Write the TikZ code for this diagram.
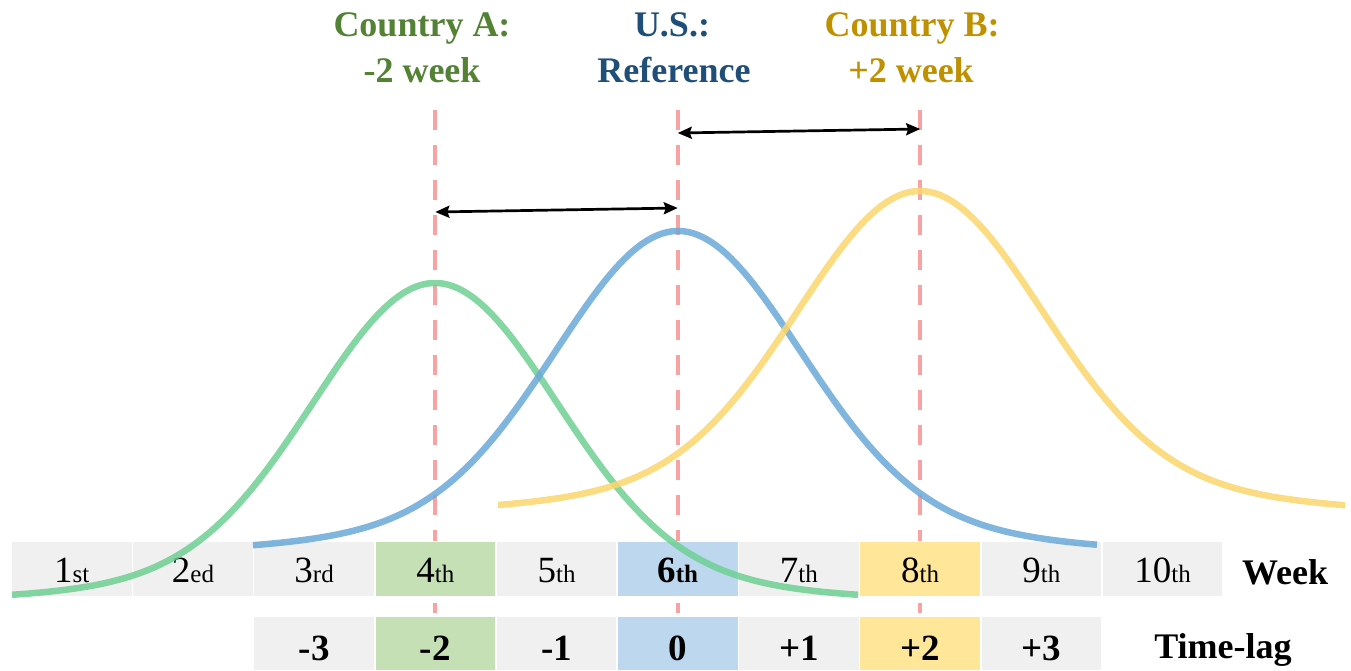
\documentclass[tikz,border=0pt]{standalone}
\usepackage{fontspec}
\setmainfont{Liberation Serif}
\usetikzlibrary{arrows.meta}
\definecolor{cellgray}{HTML}{F0F0F0}
\definecolor{cellgreen}{HTML}{C5E0B4}
\definecolor{cellblue}{HTML}{BDD7EE}
\definecolor{cellyellow}{HTML}{FFE699}
\definecolor{cgreen}{HTML}{6ECF93}
\definecolor{cblue}{HTML}{6AA8D8}
\definecolor{cyellow}{HTML}{FCD66C}
\definecolor{dashpink}{HTML}{F7A3A3}
\definecolor{labA}{HTML}{548235}
\definecolor{labUS}{HTML}{1F4E79}
\definecolor{labB}{HTML}{BF9000}
\newcommand{\wk}[2]{{\fontsize{37}{37}\selectfont #1}{\fontsize{25}{25}\selectfont #2}}
\begin{document}
\begin{tikzpicture}[x=1pt,y=-1pt,
  cell/.style={draw=none, minimum width=119.5pt, minimum height=54pt, inner sep=0pt, text height=28pt, text depth=0pt},
  lagcell/.style={cell, minimum height=53pt, text height=33pt, font=\fontsize{37}{37}\selectfont\bfseries},
  lab/.style={anchor=base, inner sep=0pt, font=\fontsize{36}{36}\selectfont\bfseries},
  guide/.style={dashpink, line width=4pt, dash pattern=on 20pt off 15pt},
  gap/.style={dashpink, line width=4pt, shorten <=7pt, shorten >=4pt},
  curve/.style={line width=6.5pt, opacity=0.85},
  dbl/.style={black, line width=2.7pt, {Stealth[length=14pt,width=12pt,inset=2pt]}-{Stealth[length=14pt,width=12pt,inset=2pt]}}
]
\useasboundingbox (0,0) rectangle (1351,670);
% top labels
\node[lab, text=labA] (a1) at (422,36) {Country A:};
\node[lab, text=labA] (a2) at (422,82) {-2 week};
\node[lab, text=labUS] (u1) at (672,36) {U.S.:};
\node[lab, text=labUS] (u2) at (674,82) {Reference};
\node[lab, text=labB] (b1) at (912,36) {Country B:};
\node[lab, text=labB] (b2) at (911,82) {+2 week};
% week row
\node[cell, fill=cellgray]   (w1)  at (71.75,568.5)   {\wk{1}{st}};
\node[cell, fill=cellgray]   (w2)  at (192.95,568.5)  {\wk{2}{ed}};
\node[cell, fill=cellgray]   (w3)  at (314.15,568.5)  {\wk{3}{rd}};
\node[cell, fill=cellgreen]  (w4)  at (435.35,568.5)  {\wk{4}{th}};
\node[cell, fill=cellgray]   (w5)  at (556.55,568.5)  {\wk{5}{th}};
\node[cell, fill=cellblue]   (w6)  at (677.75,568.5)  {\bfseries\wk{6}{th}};
\node[cell, fill=cellgray]   (w7)  at (798.95,568.5)  {\wk{7}{th}};
\node[cell, fill=cellyellow] (w8)  at (920.15,568.5)  {\wk{8}{th}};
\node[cell, fill=cellgray]   (w9)  at (1041.35,568.5) {\wk{9}{th}};
\node[cell, fill=cellgray]   (w10) at (1162.55,568.5) {\wk{10}{th}};
\node[lab] (week) at (1285,584) {Week};
% time-lag row
\node[lagcell, fill=cellgray]   (t3) at (314.15,643.5)  {-3};
\node[lagcell, fill=cellgreen]  (t4) at (435.35,643.5)  {-2};
\node[lagcell, fill=cellgray]   (t5) at (556.55,643.5)  {-1};
\node[lagcell, fill=cellblue]   (t6) at (677.75,643.5)  {0};
\node[lagcell, fill=cellgray]   (t7) at (798.95,643.5)  {+1};
\node[lagcell, fill=cellyellow] (t8) at (920.15,643.5)  {+2};
\node[lagcell, fill=cellgray]   (t9) at (1041.35,643.5) {+3};
\node[lab] (lag) at (1223,658) {Time-lag};
% guides
\coordinate (gA) at (435.35,110);
\coordinate (gU) at (677.75,110);
\coordinate (gB) at (920.15,110);
\draw[guide] (gA) -- (w4.north);
\draw[guide] (gU) -- (w6.north);
\draw[guide] (gB) -- (w8.north);
\draw[gap] (w4.south) -- (t4.north);
\draw[gap] (w6.south) -- (t6.north);
\draw[gap] (w8.south) -- (t8.north);
% curves
\draw[curve, cgreen] plot[domain=12:858, samples=160]
  (\x, {603-320*(0.9*exp(-(((\x-435)/100)^2)/2.88)+0.1*exp(-(((\x-435)/100)^2)/12.5))});
\draw[curve, cblue] plot[domain=253:1097, samples=160]
  (\x, {556-325*(0.88*exp(-(((\x-678)/100)^2)/2.88)+0.12*exp(-(((\x-678)/100)^2)/13.52))});
\draw[curve, cyellow] plot[domain=498:1345, samples=160]
  (\x, {516-325*(0.88*exp(-(((\x-920)/100)^2)/2.88)+0.12*exp(-(((\x-920)/100)^2)/13.52))});
% arrows
\coordinate (l1) at (435.35,212);
\coordinate (r1) at (677.75,208);
\coordinate (l2) at (677.75,133);
\coordinate (r2) at (920.15,129);
\draw[dbl] (l1) -- (r1);
\draw[dbl] (l2) -- (r2);
\end{tikzpicture}
\end{document}
